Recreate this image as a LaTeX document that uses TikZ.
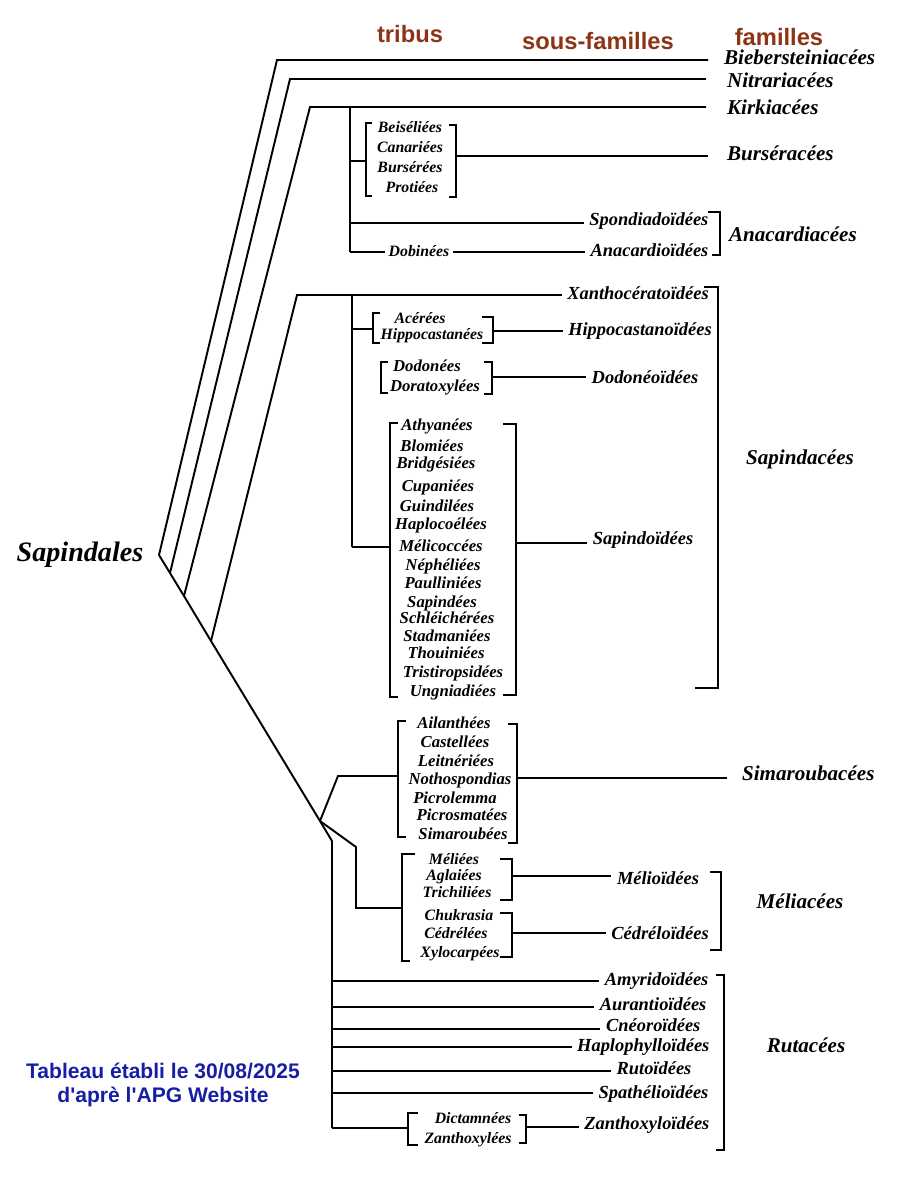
\documentclass[tikz,border=0pt]{standalone}
\usepackage{fontspec}
\setmainfont{Liberation Serif}
\newfontfamily\hdrfont{Liberation Sans}
\definecolor{hdrbrown}{RGB}{140,52,22}
\definecolor{apgblue}{RGB}{22,30,165}
\tikzset{
  ln/.style={line width=1.1pt, line join=miter},
  famlab/.style={font=\bfseries\itshape\fontsize{12}{14}\selectfont, inner sep=1pt, text height=1.6ex, text depth=.4ex},
  sublab/.style={font=\bfseries\itshape\fontsize{10.5}{12}\selectfont, inner sep=3pt, text height=1.6ex, text depth=.4ex},
  trilab/.style={font=\bfseries\itshape\fontsize{9.5}{11}\selectfont, inner sep=1pt, text height=1.6ex, text depth=.4ex},
  smalltri/.style={trilab, font=\bfseries\itshape\fontsize{9}{10}\selectfont},
  hdrlab/.style={font=\hdrfont\bfseries\fontsize{13.5}{15}\selectfont, text=hdrbrown},
  apgnote/.style={font=\hdrfont\bfseries\fontsize{12}{13.5}\selectfont, text=apgblue, align=center}
}
\begin{document}
\begin{tikzpicture}[x=0.02cm,y=-0.02cm]
\useasboundingbox (0,0) rectangle (900,1177);
% headers
\node[hdrlab] (htrib) at (410,34) {tribus};
\node[hdrlab] (hsous) at (598,41) {sous-familles};
\node[hdrlab] (hfam) at (779,37) {familles};
% root
\node[font=\bfseries\itshape\fontsize{16}{18}\selectfont] (sapl) at (80,555) {Sapindales};
\coordinate (R) at (159,555);
\coordinate (D1) at (170,573);
\coordinate (D2) at (184,596);
\coordinate (D3) at (211,641);
\coordinate (S) at (320,821);
\draw[ln] (R) -- (D1) -- (D2) -- (D3) -- (S);
% Biebersteiniacees, Nitrariacees, Kirkiacees
\coordinate (c1) at (277,60); \coordinate (e1) at (708,60);
\coordinate (c2) at (290,79); \coordinate (e2) at (706,79);
\coordinate (c3) at (310,107); \coordinate (e3) at (706,107);
\draw[ln] (R) -- (c1) -- (e1);
\draw[ln] (D1) -- (c2) -- (e2);
\draw[ln] (D2) -- (c3) -- (e3);
\node[famlab,anchor=west] (bieb) at (722,60) {Biebersteiniacées};
\node[famlab,anchor=west] (nitr) at (725,83) {Nitrariacées};
\node[famlab,anchor=west] (kirk) at (725,110) {Kirkiacées};
% Burseraceae + Anacardiaceae stem
\coordinate (K0) at (350,107);
\coordinate (Kb) at (350,161);
\coordinate (Ks) at (350,223);
\coordinate (Ka) at (350,252);
\draw[ln] (K0) -- (Ka);
% Burseraceae bracket
\draw[ln] (372,123) -- (366,123) -- (366,196) -- (372,196);
\draw[ln] (449,125) -- (456,125) -- (456,197) -- (449,197);
\coordinate (bl) at (366,161);
\coordinate (br) at (456,156);
\coordinate (be) at (708,156);
\draw[ln] (Kb) -- (bl);
\draw[ln] (br) -- (be);
\node[smalltri] (beis) at (410,128) {Beiséliées};
\node[smalltri] (cana) at (410,148) {Canariées};
\node[smalltri] (burs) at (410,168) {Bursérées};
\node[smalltri] (prot) at (412,188) {Protiées};
\node[famlab,anchor=west] (bursf) at (725,156) {Burséracées};
% Anacardiaceae
\node[sublab,anchor=east] (spon) at (714,221) {Spondiadoïdées};
\node[sublab,anchor=east] (anacs) at (714,252) {Anacardioïdées};
\node[smalltri,inner sep=2pt] (dobi) at (419,252) {Dobinées};
\draw[ln] (Ks) -- (Ks -| spon.west);
\draw[ln] (Ka) -- (Ka -| dobi.west);
\draw[ln] (Ka -| dobi.east) -- (Ka -| anacs.west);
\draw[ln] (708,212) -- (720,212) -- (720,255) -- (712,255);
\node[famlab,anchor=west] (anacf) at (727,237) {Anacardiacées};
% Sapindaceae
\coordinate (c4) at (297,295);
\coordinate (P0) at (352,295);
\coordinate (Ph) at (352,329);
\coordinate (Ps) at (352,547);
\draw[ln] (D3) -- (c4) -- (P0);
\draw[ln] (P0) -- (Ps);
\node[sublab] (xant) at (638,295) {Xanthocératoïdées};
\draw[ln] (P0) -- (P0 -| xant.west);
% Hippocastanoideae
\draw[ln] (380,313) -- (373,313) -- (373,343) -- (380,343);
\draw[ln] (482,317) -- (493,317) -- (493,343) -- (482,343);
\coordinate (hl) at (373,329);
\coordinate (hr) at (493,331);
\draw[ln] (Ph) -- (hl);
\node[smalltri] (acer) at (420,319) {Acérées};
\node[smalltri] (hipt) at (432,335) {Hippocastanées};
\node[sublab] (hips) at (640,331) {Hippocastanoïdées};
\draw[ln] (hr) -- (hr -| hips.west);
% Dodonaeoideae
\draw[ln] (388,362) -- (381,362) -- (381,393) -- (388,393);
\draw[ln] (484,362) -- (492,362) -- (492,394) -- (484,394);
\coordinate (dr) at (492,377);
\node[trilab] (dodo) at (427,367) {Dodonées};
\node[trilab] (dora) at (435,387) {Doratoxylées};
\node[sublab] (dods) at (645,379) {Dodonéoïdées};
\draw[ln] (dr) -- (dr -| dods.west);
% Sapindoideae
\draw[ln] (398,423) -- (390,423) -- (390,697) -- (398,697);
\draw[ln] (503,424) -- (516,424) -- (516,695) -- (503,695);
\coordinate (sl) at (390,547);
\coordinate (sr) at (516,543);
\draw[ln] (Ps) -- (sl);
\node[sublab] (sapis) at (643,540) {Sapindoïdées};
\draw[ln] (sr) -- (sr -| sapis.west);
\node[trilab] (t01) at (437,426) {Athyanées};
\node[trilab] (t02) at (432,447) {Blomiées};
\node[trilab] (t03) at (436,464) {Bridgésiées};
\node[trilab] (t04) at (438,487) {Cupaniées};
\node[trilab] (t05) at (437,507) {Guindilées};
\node[trilab] (t06) at (441,525) {Haplocoélées};
\node[trilab] (t07) at (441,547) {Mélicoccées};
\node[trilab] (t08) at (443,566) {Néphéliées};
\node[trilab] (t09) at (443,584) {Paulliniées};
\node[trilab] (t10) at (442,603) {Sapindées};
\node[trilab] (t11) at (447,619) {Schléichérées};
\node[trilab] (t12) at (447,637) {Stadmaniées};
\node[trilab] (t13) at (446,654) {Thouiniées};
\node[trilab] (t14) at (453,673) {Tristiropsidées};
\node[trilab] (t15) at (453,692) {Ungniadiées};
% Sapindaceae bracket
\draw[ln] (704,287) -- (718,287) -- (718,688) -- (695,688);
\node[famlab] (sapf) at (800,460) {Sapindacées};
% Simaroubaceae
\coordinate (m1) at (338,776);
\coordinate (ml) at (398,776);
\draw[ln] (S) -- (m1) -- (ml);
\draw[ln] (406,721) -- (398,721) -- (398,837) -- (406,837);
\draw[ln] (508,724) -- (517,724) -- (517,843) -- (508,843);
\coordinate (mr) at (517,778);
\coordinate (me) at (727,778);
\draw[ln] (mr) -- (me);
\node[trilab] (s1) at (454,724) {Ailanthées};
\node[trilab] (s2) at (455,743) {Castellées};
\node[trilab] (s3) at (456,762) {Leitnériées};
\node[trilab] (s4) at (460,780) {Nothospondias};
\node[trilab] (s5) at (455,799) {Picrolemma};
\node[trilab] (s6) at (462,816) {Picrosmatées};
\node[trilab] (s7) at (463,835) {Simaroubées};
\node[famlab,anchor=west] (simf) at (740,776) {Simaroubacées};
% Meliaceae
\coordinate (n1) at (356,847);
\coordinate (n2) at (356,908);
\coordinate (nl) at (402,908);
\draw[ln] (S) -- (n1) -- (n2) -- (nl);
\draw[ln] (415,854) -- (402,854) -- (402,961) -- (410,961);
\draw[ln] (500,859) -- (512,859) -- (512,900) -- (500,900);
\draw[ln] (500,913) -- (512,913) -- (512,957) -- (500,957);
\coordinate (nr1) at (512,876);
\coordinate (nr2) at (512,933);
\node[smalltri] (u1) at (454,860) {Méliées};
\node[smalltri] (u2) at (454,876) {Aglaiées};
\node[smalltri] (u3) at (457,893) {Trichiliées};
\node[smalltri] (u4) at (459,916) {Chukrasia};
\node[smalltri] (u5) at (456,934) {Cédrélées};
\node[smalltri] (u6) at (460,953) {Xylocarpées};
\node[sublab] (melis) at (658,880) {Mélioïdées};
\node[sublab] (cedrs) at (660,935) {Cédréloïdées};
\draw[ln] (nr1) -- (nr1 -| melis.west);
\draw[ln] (nr2) -- (nr2 -| cedrs.west);
\draw[ln] (710,872) -- (721,872) -- (721,950) -- (710,950);
\node[famlab] (melf) at (800,904) {Méliacées};
% Rutaceae
\coordinate (r0) at (332,841);
\coordinate (r1) at (332,981);
\coordinate (r2) at (332,1007);
\coordinate (r3) at (332,1029);
\coordinate (r4) at (332,1047);
\coordinate (r5) at (332,1071);
\coordinate (r6) at (332,1093);
\coordinate (r7) at (332,1128);
\draw[ln] (S) -- (r0) -- (r7);
\node[sublab,anchor=east] (ru1) at (714,981) {Amyridoïdées};
\node[sublab,anchor=east] (ru2) at (712,1006) {Aurantioïdées};
\node[sublab,anchor=east] (ru3) at (706,1027) {Cnéoroïdées};
\node[sublab,anchor=east] (ru4) at (715,1047) {Haplophylloïdées};
\node[sublab,anchor=east] (ru5) at (697,1070) {Rutoïdées};
\node[sublab,anchor=east] (ru6) at (714,1094) {Spathélioïdées};
\node[sublab,anchor=east] (ru7) at (715,1125) {Zanthoxyloïdées};
\draw[ln] (r1) -- (r1 -| ru1.west);
\draw[ln] (r2) -- (r2 -| ru2.west);
\draw[ln] (r3) -- (r3 -| ru3.west);
\draw[ln] (r4) -- (r4 -| ru4.west);
\draw[ln] (r5) -- (r5 -| ru5.west);
\draw[ln] (r6) -- (r6 -| ru6.west);
\coordinate (zl) at (408,1128);
\coordinate (zr) at (526,1127);
\draw[ln] (r7) -- (zl);
\draw[ln] (418,1113) -- (408,1113) -- (408,1145) -- (418,1145);
\draw[ln] (519,1115) -- (526,1115) -- (526,1143) -- (519,1143);
\draw[ln] (zr) -- (zr -| ru7.west);
\node[smalltri] (z1) at (473,1119) {Dictamnées};
\node[smalltri] (z2) at (468,1139) {Zanthoxylées};
\draw[ln] (716,975) -- (724,975) -- (724,1150) -- (716,1150);
\node[famlab] (rutf) at (806,1048) {Rutacées};
% note
\node[apgnote] (apg) at (163,1085) {Tableau établi le 30/08/2025\\d'aprè l'APG Website};
\end{tikzpicture}
\end{document}
